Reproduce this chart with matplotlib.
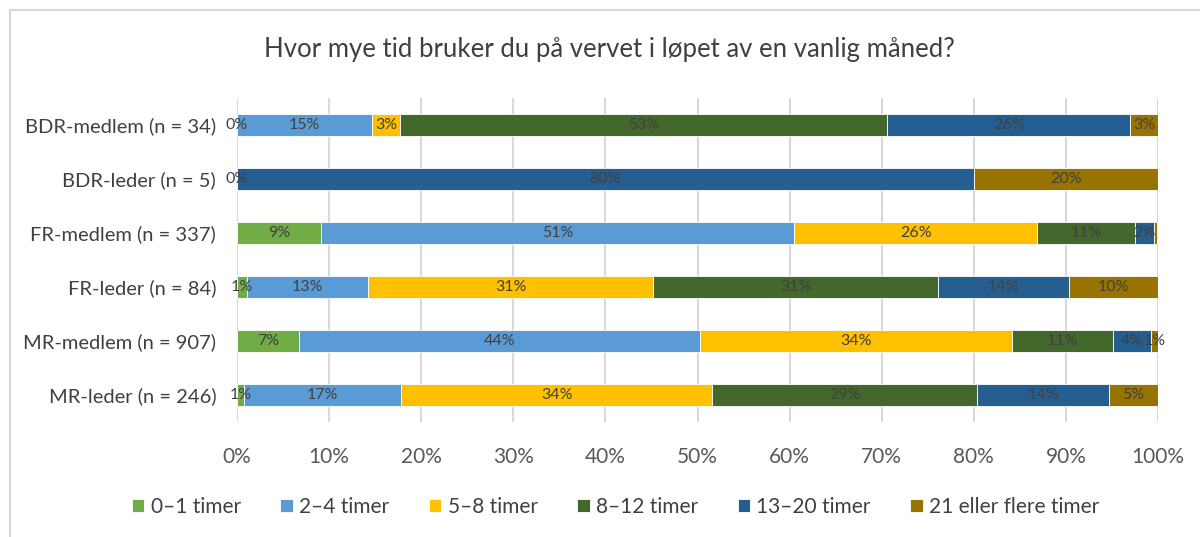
import matplotlib.pyplot as plt
from matplotlib.patches import Rectangle
import numpy as np

plt.rcParams['font.family'] = ['Lato', 'DejaVu Sans']

groups = ['BDR-medlem (n = 34)', 'BDR-leder (n = 5)', 'FR-medlem (n = 337)',
          'FR-leder (n = 84)', 'MR-medlem (n = 907)', 'MR-leder (n = 246)']
series = ['0–1 timer', '2–4 timer', '5–8 timer', '8–12 timer', '13–20 timer',
          '21 eller flere timer']
colors = ['#70AD47', '#5B9BD5', '#FFC000', '#43682B', '#255E91', '#997300']

# percent per group, in series order
t0_1 = [0.0, 0.0, 9.1, 1.1, 6.7, 0.8]
t2_4 = [14.7, 0.0, 51.4, 13.1, 43.6, 17.0]
t5_8 = [3.0, 0.0, 26.4, 31.0, 33.8, 33.8]
t8_12 = [52.9, 0.0, 10.6, 30.9, 11.0, 28.8]
t13_20 = [26.4, 80.0, 2.1, 14.2, 4.1, 14.3]
t21 = [3.0, 20.0, 0.3, 9.7, 0.8, 5.3]
values = [t0_1, t2_4, t5_8, t8_12, t13_20, t21]

fig = plt.figure(figsize=(12, 5.37), dpi=100)
fig.patches.append(Rectangle((10 / 1200, -0.1), 1.2, 1 - 10 / 537 + 0.1,
                             transform=fig.transFigure, fill=False,
                             edgecolor='#D9D9D9', linewidth=1.5))
ax = fig.add_axes([237 / 1200, 1 - 422 / 537, 921 / 1200, 324 / 537])

y = np.arange(len(groups))
left = np.zeros(len(groups))
for name, vals, c in zip(series, values, colors):
    vals = np.array(vals)
    ax.barh(y, vals, left=left, height=0.41, color=c, edgecolor='white',
            linewidth=0.6, label=name, zorder=3)
    for i, v in enumerate(vals):
        show = v > 0.5 or (v == 0 and i < 2 and name == '0–1 timer')
        if show:
            ax.text(left[i] + v / 2, y[i], f'{v:.0f}%', ha='center', va='center',
                    fontsize=11.5, color='#404040', zorder=4)
    left += vals

ax.set_xlim(0, 100)
ax.set_ylim(len(groups) - 0.5, -0.5)
ax.set_yticks(y)
ax.set_yticklabels(groups, fontsize=14.5, color='#404040')
ax.set_xticks(np.arange(0, 101, 10))
ax.set_xticklabels([f'{t}%' for t in range(0, 101, 10)], fontsize=15, color='#595959')
ax.tick_params(axis='both', length=0)
ax.tick_params(axis='x', pad=18)
ax.tick_params(axis='y', pad=15)
ax.grid(axis='x', color='#D9D9D9', linewidth=1.5, zorder=0)
for s in ax.spines.values():
    s.set_visible(False)

fig.text(0.508, 1 - 50 / 537, 'Hvor mye tid bruker du på vervet i løpet av en vanlig måned?',
         ha='center', va='center', fontsize=18.5, color='#404040')

fig.legend(loc='center', bbox_to_anchor=(0.513, 1 - 507 / 537), ncol=6, frameon=False,
           fontsize=15, handlelength=0.6, handleheight=0.6, columnspacing=1.9,
           handletextpad=0.3, labelcolor='#404040')

fig.savefig('out.png', dpi=100)
